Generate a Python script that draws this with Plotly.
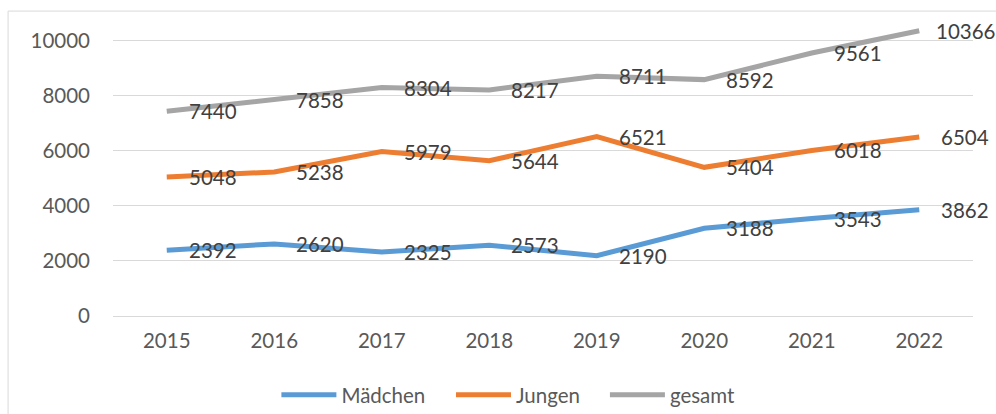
import plotly.graph_objects as go

years = ["2015", "2016", "2017", "2018", "2019", "2020", "2021", "2022"]
maedchen = [2392, 2620, 2325, 2573, 2190, 3188, 3543, 3862]
jungen = [5048, 5238, 5979, 5644, 6521, 5404, 6018, 6504]
gesamt = [7440, 7858, 8304, 8217, 8711, 8592, 9561, 10366]

series = [("Mädchen", maedchen, "#5B9BD5", "legend", 0.190),
          ("Jungen", jungen, "#ED7D31", "legend2", 0.393),
          ("gesamt", gesamt, "#A5A5A5", "legend3", 0.572)]

FONT = "Lato"
TXT = "#595959"
FS = 20.5

fig = go.Figure()
annotations = []
legends = {}
for name, vals, col, leg, lx in series:
    fig.add_trace(go.Scatter(x=years, y=vals, name=name, mode="lines",
                             line=dict(color=col, width=5), legend=leg,
                             hoverinfo="skip"))
    legends[leg] = dict(orientation="h", x=lx, xanchor="left", y=-0.26, yanchor="middle",
                        font=dict(family=FONT, size=FS, color=TXT), itemwidth=55,
                        bgcolor="rgba(0,0,0,0)")
    for i, v in enumerate(vals):
        annotations.append(dict(x=i, y=v, xref="x", yref="y", text=str(v),
                                showarrow=False, xanchor="center", yanchor="middle",
                                xshift=46, font=dict(family=FONT, size=FS, color="#404040")))

fig.update_layout(
    width=996, height=414,
    margin=dict(l=113, r=23, t=12, b=98, autoexpand=False),
    paper_bgcolor="white", plot_bgcolor="white",
    font=dict(family=FONT, size=FS, color=TXT),
    showlegend=True,
    annotations=annotations,
    shapes=[dict(type="rect", xref="paper", yref="paper",
                 x0=-0.122, x1=1.2, y0=-0.5, y1=1.003,
                 line=dict(color="#D9D9D9", width=1), fillcolor="rgba(0,0,0,0)",
                 layer="below")],
    **legends,
)
fig.update_xaxes(type="category", range=[-0.5, 7.5], showgrid=False, showline=False,
                 ticks="", tickfont=dict(family=FONT, size=FS, color=TXT),
                 ticklabelstandoff=10, automargin=False)
fig.update_yaxes(range=[0, 11050], dtick=2000, tick0=0, tickformat="d",
                 showgrid=True, gridcolor="#D9D9D9",
                 gridwidth=1, zeroline=True, zerolinecolor="#D9D9D9", zerolinewidth=1,
                 showline=False, ticks="", tickfont=dict(family=FONT, size=FS, color=TXT),
                 ticklabelstandoff=22, automargin=False)

fig.write_html("out.html", config={"displayModeBar": False},
               post_script="document.body.style.margin='0';")
